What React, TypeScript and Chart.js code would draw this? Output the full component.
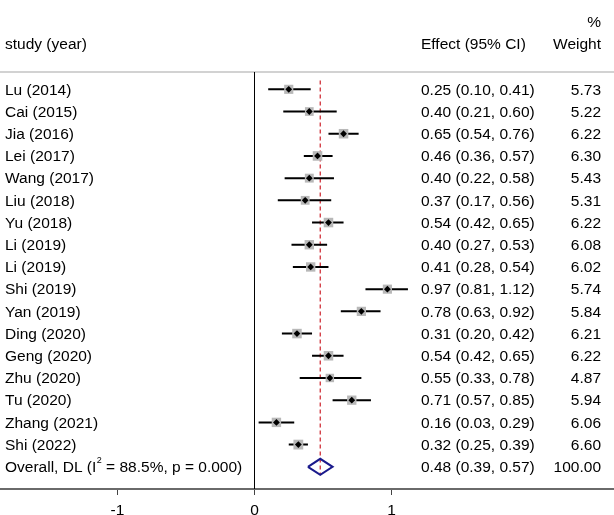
import { useEffect, useRef } from "react";
import { Chart, registerables } from "chart.js";

Chart.register(...registerables);

const studies = [
  "Lu (2014)", "Cai (2015)", "Jia (2016)", "Lei (2017)", "Wang (2017)", "Liu (2018)",
  "Yu (2018)", "Li (2019)", "Li (2019)", "Shi (2019)", "Yan (2019)", "Ding (2020)",
  "Geng (2020)", "Zhu (2020)", "Tu (2020)", "Zhang (2021)", "Shi (2022)",
];
const effects = [0.25, 0.40, 0.65, 0.46, 0.40, 0.37, 0.54, 0.40, 0.41, 0.97, 0.78, 0.31, 0.54, 0.55, 0.71, 0.16, 0.32];
const lowers = [0.10, 0.21, 0.54, 0.36, 0.22, 0.17, 0.42, 0.27, 0.28, 0.81, 0.63, 0.20, 0.42, 0.33, 0.57, 0.03, 0.25];
const uppers = [0.41, 0.60, 0.76, 0.57, 0.58, 0.56, 0.65, 0.53, 0.54, 1.12, 0.92, 0.42, 0.65, 0.78, 0.85, 0.29, 0.39];
const weights = [5.73, 5.22, 6.22, 6.30, 5.43, 5.31, 6.22, 6.08, 6.02, 5.74, 5.84, 6.21, 6.22, 4.87, 5.94, 6.06, 6.60];

const overallEffect = 0.48;
const overallLower = 0.39;
const overallUpper = 0.57;
const overallWeight = 100.0;
const overallI2 = "88.5%";
const overallP = "0.000";

const xTickValues = [-1, 0, 1];

const FONT = '"Liberation Sans", Arial, Helvetica, sans-serif';
const FS = 15.5;

export default function App() {
  const ref = useRef<HTMLCanvasElement | null>(null);

  useEffect(() => {
    document.body.style.margin = "0";
    const canvas = ref.current;
    if (!canvas) return;
    const n = studies.length;
    const overallRow = n;

    const ciData: any[] = [];
    studies.forEach((_, i) => {
      ciData.push({ x: lowers[i], y: i }, { x: uppers[i], y: i }, { x: null, y: null });
    });
    const pointData = studies.map((_, i) => ({ x: effects[i], y: i }));
    const dh = 0.36;
    const diamondData = [
      { x: overallLower, y: overallRow },
      { x: overallEffect, y: overallRow - dh },
      { x: overallUpper, y: overallRow },
      { x: overallEffect, y: overallRow + dh },
      { x: overallLower, y: overallRow },
    ];
    const yMin = -0.78;
    const yMax = 18.0;

    const textPlugin = {
      id: "forestText",
      beforeDatasetsDraw(chart: any) {
        const { ctx, chartArea } = chart;
        ctx.save();
        ctx.strokeStyle = "#d2d2d2";
        ctx.lineWidth = 2;
        ctx.beginPath();
        ctx.moveTo(0, chartArea.top);
        ctx.lineTo(chart.width, chartArea.top);
        ctx.stroke();
        ctx.restore();
      },
      afterDatasetsDraw(chart: any) {
        const { ctx } = chart;
        const y = chart.scales.y;
        ctx.save();
        ctx.fillStyle = "#000";
        ctx.font = `${FS}px ${FONT}`;
        ctx.textBaseline = "middle";
        ctx.textAlign = "left";
        ctx.fillText("study (year)", 5, 45);
        ctx.fillText("Effect (95% CI)", 421, 45);
        ctx.textAlign = "right";
        ctx.fillText("Weight", 601, 45);
        ctx.fillText("%", 601, 23);
        const fmt = (v: number) => v.toFixed(2);
        studies.forEach((s, i) => {
          const py = y.getPixelForValue(i) + 1;
          ctx.textAlign = "left";
          ctx.fillText(s, 5, py);
          ctx.fillText(`${fmt(effects[i])} (${fmt(lowers[i])}, ${fmt(uppers[i])})`, 421, py);
          ctx.textAlign = "right";
          ctx.fillText(fmt(weights[i]), 601, py);
        });
        const oy = y.getPixelForValue(overallRow) + 1;
        ctx.textAlign = "left";
        const p1 = "Overall, DL (I";
        ctx.fillText(p1, 5, oy);
        const w1 = ctx.measureText(p1).width;
        ctx.font = `9px ${FONT}`;
        ctx.fillText("2", 5 + w1 + 0.5, oy - 7);
        const w2 = ctx.measureText("2").width;
        ctx.font = `${FS}px ${FONT}`;
        ctx.fillText(` = ${overallI2}, p = ${overallP})`, 5 + w1 + w2 + 0.5, oy);
        ctx.fillText(`${fmt(overallEffect)} (${fmt(overallLower)}, ${fmt(overallUpper)})`, 421, oy);
        ctx.textAlign = "right";
        ctx.fillText(overallWeight.toFixed(2), 601, oy);
        ctx.restore();
      },
    };

    const chart = new Chart(canvas, {
      type: "scatter",
      data: {
        datasets: [
          {
            data: pointData,
            pointStyle: "rectRot",
            pointRadius: 3.4,
            backgroundColor: "#000",
            borderWidth: 0,
          },
          {
            data: pointData,
            pointStyle: "rect",
            pointRadius: weights.map((w) => 2.7 * Math.sqrt(w)),
            backgroundColor: "#b8b8b8",
            borderWidth: 0,
          },
          {
            data: ciData,
            showLine: true,
            spanGaps: false,
            borderColor: "#000",
            borderWidth: 2,
            pointRadius: 0,
          },
          {
            data: diamondData,
            showLine: true,
            borderColor: "#1a1a8c",
            borderWidth: 2,
            borderJoinStyle: "miter",
            pointRadius: 0,
          },
          {
            data: [
              { x: overallEffect, y: -0.4 },
              { x: overallEffect, y: overallRow + dh },
            ],
            showLine: true,
            borderColor: "#d0313a",
            borderWidth: 1.3,
            borderDash: [4, 3],
            pointRadius: 0,
          },
          {
            data: [
              { x: 0, y: yMin },
              { x: 0, y: yMax },
            ],
            showLine: true,
            borderColor: "#000",
            borderWidth: 1,
            pointRadius: 0,
          },
        ] as any,
      },
      options: {
        animation: false,
        responsive: false,
        maintainAspectRatio: false,
        layout: { autoPadding: false, padding: { top: 72, left: 0, right: 0, bottom: 0 } },
        plugins: { legend: { display: false }, tooltip: { enabled: false } },
        scales: {
          x: {
            type: "linear",
            min: -254.5 / 137,
            max: 359.5 / 137,
            afterBuildTicks: (s: any) => {
              s.ticks = xTickValues.map((v) => ({ value: v }));
            },
            afterFit: (s: any) => {
              s.height = 26;
            },
            ticks: {
              font: { size: FS, family: FONT },
              color: "#000",
              padding: 6,
              autoSkip: false,
              maxRotation: 0,
              callback: (v: any) => String(v),
            },
            grid: { drawOnChartArea: false, drawTicks: true, tickLength: 6, color: "#444", lineWidth: 1 },
            border: { display: true, color: "#6a6a6a", width: 2 },
          },
          y: { type: "linear", reverse: true, min: yMin, max: yMax, display: false },
        },
      } as any,
      plugins: [textPlugin],
    });
    return () => chart.destroy();
  }, []);

  return <canvas ref={ref} width={614} height={515} style={{ display: "block", width: 614, height: 515 }} />;
}
